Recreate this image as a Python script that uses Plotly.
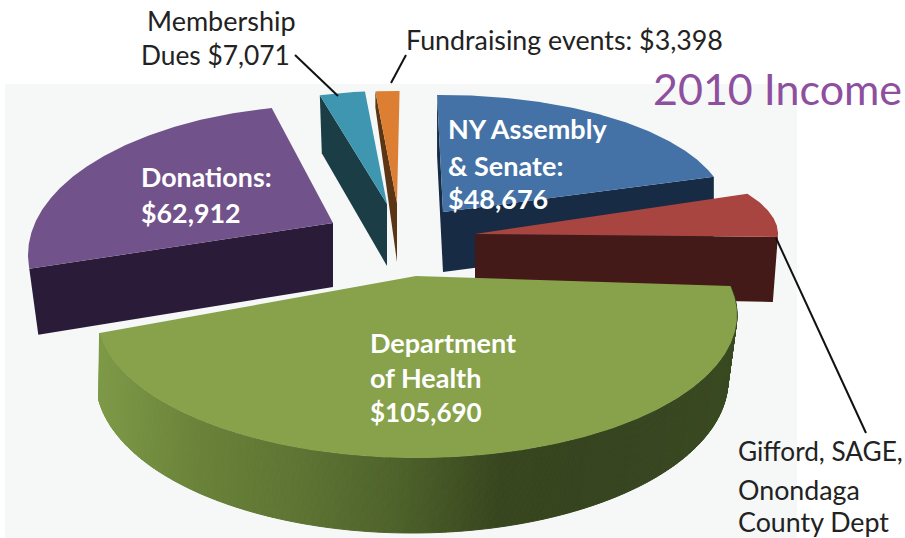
import math
import plotly.graph_objects as go

# ---- data ----
categories = ["NY Assembly & Senate", "Gifford, SAGE, Onondaga County Dept",
              "Department of Health", "Donations", "Membership Dues", "Fundraising events"]
values = [48676, 14000, 105690, 62912, 7071, 3398]  # Gifford has no printed value: estimated

# ---- styles / geometry of the tilted, exploded pie (pixels of the 905x538 frame) ----
face_colors = ["#4472a6", "#a84541", "#87a24a", "#72528b", "#3f96b0", "#dc7f32"]
wall_colors = ["#172b44", "#431a17", "#3a4a20", "#2a1c38", "#1a3d46", "#5c3515"]
apex = [(443, 212), (475, 234), (416, 276), (333, 223), (387, 204), (397, 203)]
ellipse = [(443, 212, 284, 117), (475, 234, 303, 92), (417, 315, 320, 143),
           (333, 255, 305, 150), (387, 204, 250, 113), (397, 203, 245, 112)]
nudge = [(-1.2, 0), (-8.5, -1.5), (-15, 12), (14, 4), (0, 0), (0, 0.6)]
depth_inner = [60, 62, 0, 64, 62, 59]
depth_outer = [60, 65, 0, 66, 58, 16]
outer_dx = [0, -5, 0, 9, 2, 0]
radial_faces = [("start", "end"), ("end",), (), ("start",), ("start",), ("start",)]
draw_order = [3, 4, 5, 0, 1, 2]
health_bottom = (412, 380, 316, 153)
health_wall_stops = [(100, "#7e9a48"), (200, "#6a8239"), (300, "#5f7534"), (400, "#4e622b"),
                     (500, "#39471f"), (600, "#364420"), (735, "#3a4a20")]

texts = [
    ("Membership", 145, 20, 27, "#222222", False),
    ("Dues $7,071", 139, 55, 26.3, "#222222", False),
    ("Fundraising events: $3,398", 404, 40, 26.8, "#222222", False),
    ("2010 Income", 651, 88, 43, "#8e4f9f", False),
    ("NY Assembly", 446, 128, 27, "#ffffff", True),
    ("& Senate:", 446, 165, 27, "#ffffff", True),
    ("$48,676", 446, 198, 27, "#ffffff", True),
    ("Donations:", 139, 177, 26.8, "#ffffff", True),
    ("$62,912", 139, 213, 26.8, "#ffffff", True),
    ("Department", 368, 342, 27, "#ffffff", True),
    ("of Health", 368, 377, 27, "#ffffff", True),
    ("$105,690", 368, 412, 26, "#ffffff", True),
    ("Gifford, SAGE,", 736, 451, 26.2, "#222222", False),
    ("Onondaga", 736, 490, 26.8, "#222222", False),
    ("County Dept", 736, 522, 26.8, "#222222", False),
]
leaders = [((295, 55), (338, 96)), ((406, 55), (391, 83)), ((776, 238), (866, 433))]


def on_ellipse(e, deg):
    cx, cy, rx, ry = e
    a = math.radians(deg)
    return cx + rx * math.sin(a), cy - ry * math.cos(a)


def hex_rgb(c):
    return tuple(int(c[i:i + 2], 16) for i in (1, 3, 5))


def wall_color(x):
    st = health_wall_stops
    if x <= st[0][0]:
        return st[0][1]
    for (x0, c0), (x1, c1) in zip(st, st[1:]):
        if x <= x1:
            t = (x - x0) / (x1 - x0)
            a, b = hex_rgb(c0), hex_rgb(c1)
            return "rgb(%d,%d,%d)" % tuple(p + (q - p) * t for p, q in zip(a, b))
    return st[-1][1]


fig = go.Figure()


def poly(points, color, name, edge=0):
    xs = [p[0] for p in points] + [points[0][0]]
    ys = [p[1] for p in points] + [points[0][1]]
    fig.add_trace(go.Scatter(x=xs, y=ys, mode="lines", fill="toself", fillcolor=color,
                             line=dict(color=color, width=edge), name=name,
                             hoverinfo="name", showlegend=False))


total = sum(values)
spans, acc = [], 0.0
for v in values:
    spans.append((acc, acc + 360.0 * v / total))
    acc += 360.0 * v / total

for i in draw_order:
    a0, a1 = spans[i][0] + nudge[i][0], spans[i][1] + nudge[i][1]
    n = max(8, int(a1 - a0) * 2)
    degs = [a0 + (a1 - a0) * k / n for k in range(n + 1)]
    arc = [on_ellipse(ellipse[i], d) for d in degs]
    ax, ay = apex[i]
    for side in radial_faces[i]:
        ox, oy = arc[0] if side == "start" else arc[-1]
        poly([(ax, ay), (ox, oy), (ox + outer_dx[i], oy + depth_outer[i]), (ax, ay + depth_inner[i])],
             wall_colors[i], categories[i])
    if categories[i] == "Department of Health":
        for d0, d1 in zip(degs, degs[1:]):
            t0, t1 = on_ellipse(ellipse[i], d0), on_ellipse(ellipse[i], d1)
            b0, b1 = on_ellipse(health_bottom, d0), on_ellipse(health_bottom, d1)
            poly([t0, t1, b1, b0], wall_color((t0[0] + t1[0]) / 2), categories[i], edge=1)
    poly([(ax, ay)] + arc, face_colors[i], categories[i])

for (x0, y0), (x1, y1) in leaders:
    fig.add_trace(go.Scatter(x=[x0, x1], y=[y0, y1], mode="lines", hoverinfo="skip",
                             line=dict(color="#111111", width=2), showlegend=False))

for label, x, y, size, color, bold in texts:
    fig.add_annotation(x=x, y=y, text=f"<b>{label}</b>" if bold else label, showarrow=False,
                       xanchor="left", yanchor="middle", xref="x", yref="y",
                       font=dict(family="Lato", size=size, color=color))

fig.update_layout(
    width=905, height=538, margin=dict(l=0, r=0, t=0, b=0),
    paper_bgcolor="#ffffff", plot_bgcolor="#ffffff", showlegend=False,
    xaxis=dict(range=[0, 905], visible=False, fixedrange=True),
    yaxis=dict(range=[538, 0], visible=False, fixedrange=True),
    shapes=[dict(type="rect", xref="x", yref="y", x0=5, y0=84, x1=797, y1=538,
                 fillcolor="#f5f8f7", line=dict(width=0), layer="below")],
)
fig.write_html("out.html", config={"displayModeBar": False},
               post_script="document.body.style.margin='0';document.body.style.overflow='hidden';")
